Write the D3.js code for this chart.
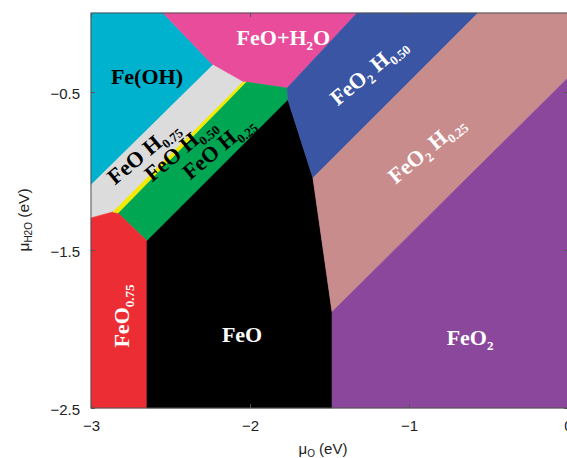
<!DOCTYPE html>
<html>
<head>
<meta charset="utf-8">
<script src="https://cdn.jsdelivr.net/npm/d3@7"></script>
<style>
  html, body { margin: 0; padding: 0; background: #fff; }
  svg { display: block; }
</style>
</head>
<body>
<svg id="chart" width="567" height="458"></svg>
<script>
// Stability regions of Fe–O–H phases in (μO, μH2O) space, eV.
// Each region is a polygon of [μO, μH2O] vertices.
const feOH     = [[-3, 0], [-2.547, 0], [-2.233, -0.329], [-3, -1.089]];
const feOplusH2O = [[-2.547, 0], [-1.327, 0], [-1.767, -0.475], [-2.025, -0.437], [-2.044, -0.437], [-2.233, -0.329]];
const feOH075  = [[-3, -1.089], [-2.233, -0.329], [-2.044, -0.437], [-2.862, -1.259], [-3, -1.297]];
const feOH050  = [[-2.862, -1.259], [-2.044, -0.437], [-2.025, -0.437], [-2.830, -1.266]];
const feOH025  = [[-2.830, -1.266], [-2.025, -0.437], [-1.767, -0.475], [-1.761, -0.551], [-2.648, -1.443]];
const feO075   = [[-3, -1.297], [-2.862, -1.259], [-2.830, -1.266], [-2.648, -1.443], [-2.648, -2.5], [-3, -2.5]];
const feO      = [[-2.648, -1.443], [-1.761, -0.551], [-1.604, -1.044], [-1.484, -1.892], [-1.484, -2.5], [-2.648, -2.5]];
const feO2H050 = [[-1.767, -0.475], [-1.327, 0], [-0.566, 0], [-1.604, -1.044], [-1.761, -0.551]];
const feO2H025 = [[-0.566, 0], [0, 0], [0, -0.41], [-1.484, -1.892], [-1.604, -1.044]];
const feO2     = [[-1.484, -1.892], [0, -0.41], [0, -2.5], [-1.484, -2.5]];

const regions = [feOH, feOplusH2O, feOH075, feOH025, feO075, feO, feO2H050, feO2H025, feO2, feOH050];
const regionColors = ["#00b2cd", "#e94c9b", "#dcdcdc", "#00a651", "#ec2d33", "#000000", "#3a55a3", "#c98c8c", "#8b479b", "#f2ea00"];

const xTicks = [-3, -2, -1, 0];
const yTicks = [-2.5, -1.5, -0.5];

// Region labels: text pieces ([string, subscript?]), anchor point in eV, rotation, colour
const labelParts = [
  [["Fe(OH)", false]],
  [["FeO+H", false], ["2", true], ["O", false]],
  [["FeO", false], ["2", true], [" H", false], ["0.50", true]],
  [["FeO", false], ["2", true], [" H", false], ["0.25", true]],
  [["FeO H", false], ["0.75", true]],
  [["FeO H", false], ["0.50", true]],
  [["FeO H", false], ["0.25", true]],
  [["FeO", false], ["0.75", true]],
  [["FeO", false]],
  [["FeO", false], ["2", true]]
];
const labelAt = [[-2.648, -0.40], [-1.79, -0.152], [-1.226, -0.405], [-0.862, -0.899], [-2.642, -0.918],
                 [-2.409, -0.899], [-2.170, -0.886], [-2.811, -1.918], [-2.050, -2.032], [-0.616, -2.051]];
const labelAngle = [0, 0, -40, -40, -40, -40, -40, -90, 0, 0];
const labelFill = ["#000", "#fff", "#fff", "#fff", "#000", "#000", "#000", "#fff", "#fff", "#fff"];

const svg = d3.select("#chart");
const x = d3.scaleLinear().domain([-3, 0]).range([91, 568]);
const y = d3.scaleLinear().domain([-2.5, 0]).range([408, 13]);

const line = d3.line().x(d => x(d[0])).y(d => y(d[1]));

const plot = svg.append("g");
plot.selectAll("path.region")
  .data(regions)
  .join("path")
  .attr("class", "region")
  .attr("d", d => line(d) + "Z")
  .attr("fill", (d, i) => regionColors[i])
  .attr("stroke", (d, i) => regionColors[i])
  .attr("stroke-width", 0.6)
  .attr("stroke-linejoin", "round");

// labels: diagonal ones sit on their anchor baseline, the others are centred on it
const serif = "'Liberation Serif', 'Times New Roman', serif";
labelParts.forEach((parts, i) => {
  const t = plot.append("text")
    .attr("transform", `translate(${x(labelAt[i][0])},${y(labelAt[i][1])}) rotate(${labelAngle[i]})`)
    .attr("text-anchor", "middle")
    .attr("font-family", serif)
    .attr("font-weight", "bold")
    .attr("font-size", 22)
    .attr("fill", labelFill[i]);
  const centre = labelAngle[i] === -40 ? 0 : 7.5;
  let shifted = false;
  parts.forEach(([s, sub], k) => {
    const ts = t.append("tspan").text(s);
    const base = k === 0 ? centre : 0;
    if (sub) {
      ts.attr("font-size", 13).attr("dy", base + (shifted ? 0 : 5));
      shifted = true;
    } else {
      ts.attr("dy", base + (shifted ? -5 : 0));
      shifted = false;
    }
  });
});

// axes, ticks pointing inward
const sans = "'Liberation Sans', Arial, Helvetica, sans-serif";
const fmtX = d3.format("d");
const fmtY = d3.format(".1f");

const gx = svg.append("g").attr("transform", "translate(0,408)")
  .call(d3.axisBottom(x).tickValues(xTicks).tickFormat(fmtX).tickSizeInner(-4).tickSizeOuter(0).tickPadding(12));
const gy = svg.append("g").attr("transform", "translate(91,0)")
  .call(d3.axisLeft(y).tickValues(yTicks).tickFormat(fmtY).tickSizeInner(-4).tickSizeOuter(0).tickPadding(11));
const gxt = svg.append("g").attr("transform", "translate(0,13)")
  .call(d3.axisTop(x).tickValues(xTicks).tickFormat("").tickSizeInner(-4).tickSizeOuter(0));
const gyr = svg.append("g").attr("transform", "translate(568,0)")
  .call(d3.axisRight(y).tickValues(yTicks).tickFormat("").tickSizeInner(-4).tickSizeOuter(0));

[gx, gy, gxt, gyr].forEach(g => {
  g.select(".domain").remove();
  g.selectAll(".tick line").attr("stroke", "#555");
  g.selectAll("text").attr("font-family", sans).attr("font-size", 15).attr("fill", "#222");
});
gy.selectAll("text").attr("dy", "0.45em");

// frame
svg.append("rect")
  .attr("x", x(-3)).attr("y", y(0))
  .attr("width", x(0) - x(-3)).attr("height", y(-2.5) - y(0))
  .attr("fill", "none").attr("stroke", "#555").attr("stroke-width", 1);

// axis titles
const xt = svg.append("text")
  .attr("x", 323).attr("y", 454)
  .attr("text-anchor", "middle")
  .attr("font-family", sans).attr("font-size", 15).attr("fill", "#222");
xt.append("tspan").text("μ");
xt.append("tspan").text("O").attr("font-size", 10).attr("dy", 3);
xt.append("tspan").text(" (eV)").attr("dy", -3);

const yt = svg.append("text")
  .attr("transform", "translate(29,220) rotate(-90)")
  .attr("text-anchor", "middle")
  .attr("font-family", sans).attr("font-size", 15.5).attr("fill", "#222");
yt.append("tspan").text("μ");
yt.append("tspan").text("H2O").attr("font-size", 10).attr("dy", 3);
yt.append("tspan").text(" (eV)").attr("dy", -3);
</script>
</body>
</html>
